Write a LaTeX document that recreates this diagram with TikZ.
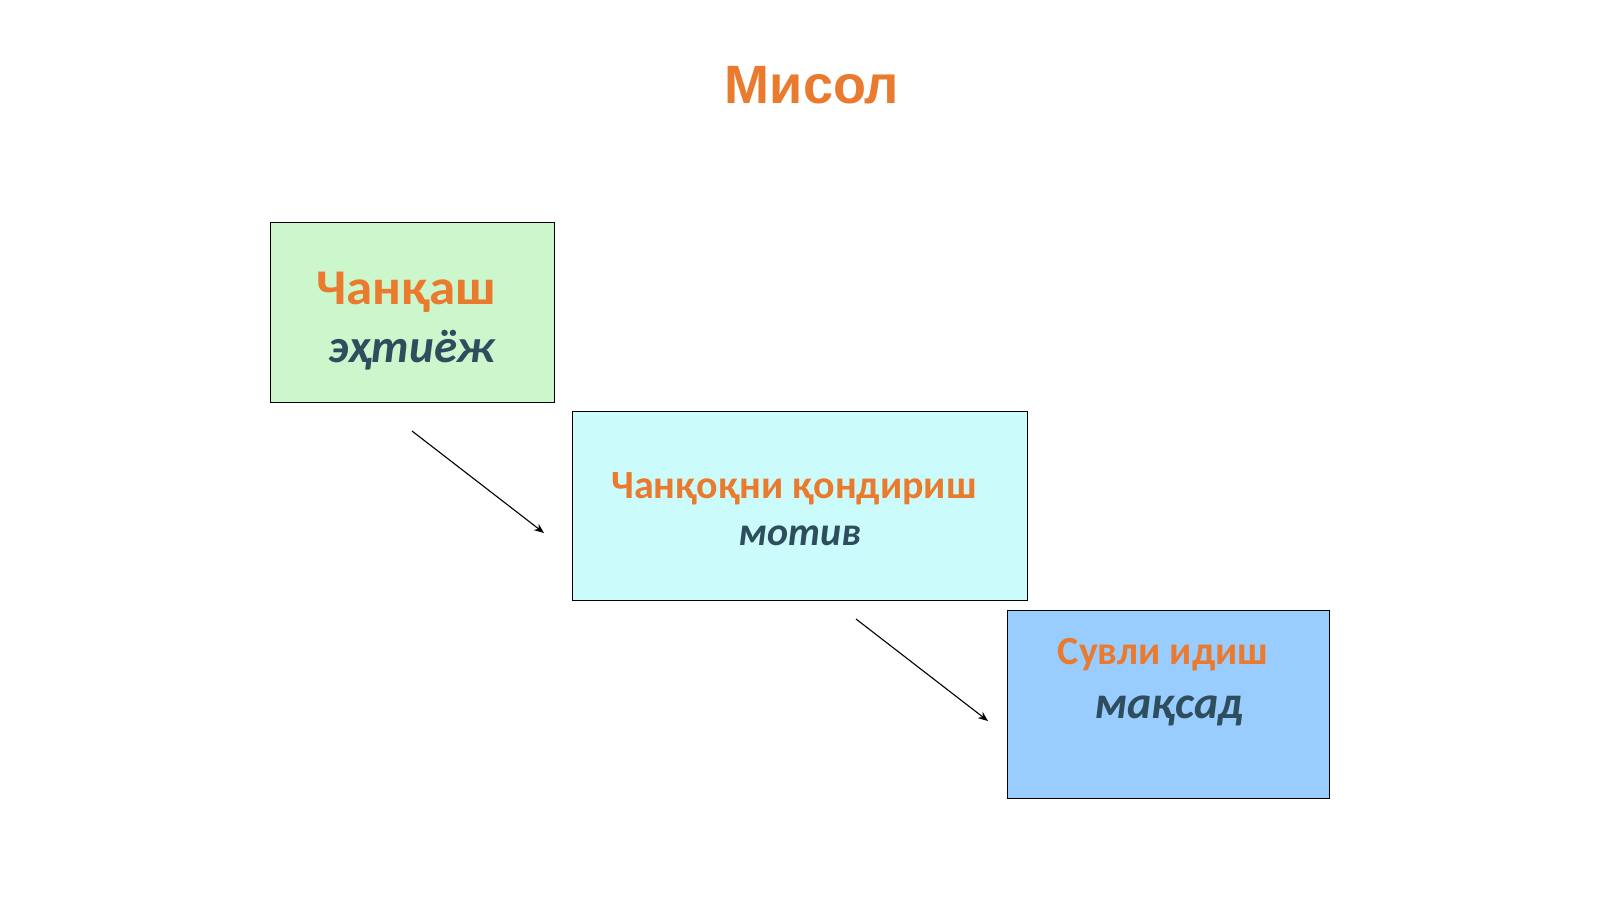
\documentclass[tikz,border=0pt]{standalone}
\usepackage{fontspec}
\setmainfont{Carlito}
\newfontfamily\titlefont{Liberation Sans}
\usetikzlibrary{arrows.meta}
\definecolor{orangetxt}{HTML}{EA7A2E}
\definecolor{darktxt}{HTML}{2E4E5E}
\definecolor{fillgreen}{HTML}{CCF7CC}
\definecolor{fillcyan}{HTML}{CCFBFC}
\definecolor{fillblue}{HTML}{99CCFF}
\tikzset{
  boxnode/.style={draw=black, line width=1.2pt, inner sep=0pt},
  toptext/.style={text=orangetxt, font=\bfseries\fontsize{40}{48}\selectfont, anchor=base},
  subtext/.style={text=darktxt, font=\bfseries\itshape\fontsize{46}{54}\selectfont, anchor=base},
  arrowline/.style={draw=black, line width=1.1pt, -{Stealth[length=10pt,width=8pt]}}
}
\begin{document}
\begin{tikzpicture}[x=1pt,y=-1pt]
\useasboundingbox (0,0) rectangle (1600,899);
\fill[white] (0,0) rectangle (1600,899);
\node[text=orangetxt, font=\titlefont\bfseries\fontsize{54}{64}\selectfont, anchor=base] (title) at (812,103) {Мисол};
% boxes
\node[boxnode, fill=fillgreen, minimum width=284pt, minimum height=180pt, anchor=north west] (b1) at (270,222) {};
\node[boxnode, fill=fillcyan, minimum width=455pt, minimum height=189pt, anchor=north west] (b2) at (572,411) {};
\node[boxnode, fill=fillblue, minimum width=322pt, minimum height=188pt, anchor=north west] (b3) at (1007,610) {};
% texts
\node[toptext, font=\bfseries\fontsize{50}{60}\selectfont] (t1) at (406,304) {\scalebox{1.06}[1]{Чанқаш}};
\node[subtext, font=\bfseries\itshape\fontsize{47}{56}\selectfont] (s1) at (412,362) {эҳтиёж};
\node[toptext, font=\bfseries\fontsize{40}{48}\selectfont] (t2) at (794,498) {Чанқоқни қондириш};
\node[subtext, font=\bfseries\itshape\fontsize{40}{48}\selectfont] (s2) at (800,545) {мотив};
\node[toptext] (t3) at (1163,664) {Сувли идиш};
\node[subtext] (s3) at (1169,718) {мақсад};
% arrows
\coordinate (a1s) at (412,431);
\coordinate (a1e) at (544,533);
\coordinate (a2s) at (856,619);
\coordinate (a2e) at (988,721);
\draw[arrowline] (a1s) -- (a1e);
\draw[arrowline] (a2s) -- (a2e);
\end{tikzpicture}
\end{document}
